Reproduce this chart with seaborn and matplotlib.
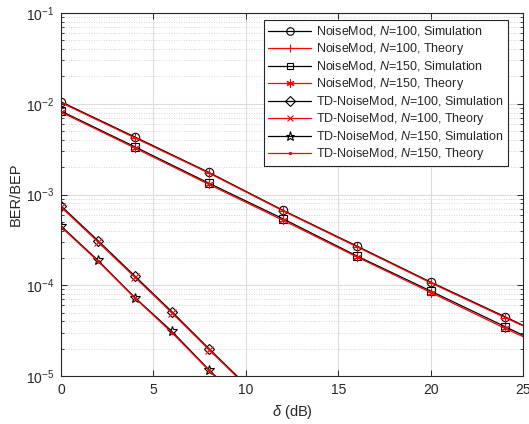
import numpy as np
import pandas as pd
import matplotlib
matplotlib.use("Agg")
import matplotlib.pyplot as plt
from matplotlib.ticker import LogLocator, NullFormatter, FixedLocator
import seaborn as sns

# ---- data -----------------------------------------------------------------
snr_nm = [0, 4, 8, 12, 16, 20, 24, 25]
nm100_sim = [1.05e-2, 4.3e-3, 1.75e-3, 6.7e-4, 2.7e-4, 1.08e-4, 4.5e-5, 3.6e-5]
nm100_th = [1.03e-2, 4.2e-3, 1.72e-3, 6.6e-4, 2.65e-4, 1.06e-4, 4.4e-5, 3.55e-5]
nm150_sim = [8.3e-3, 3.35e-3, 1.33e-3, 5.4e-4, 2.1e-4, 8.6e-5, 3.5e-5, 2.8e-5]
nm150_th = [8.1e-3, 3.25e-3, 1.29e-3, 5.2e-4, 2.05e-4, 8.3e-5, 3.35e-5, 2.7e-5]

snr_td = [0, 2, 4, 6, 8, 10]
td100_sim = [7.5e-4, 3.1e-4, 1.26e-4, 5.1e-5, 2.0e-5, 8.0e-6]
td100_th = [7.3e-4, 3.0e-4, 1.22e-4, 4.95e-5, 1.95e-5, 7.8e-6]
td150_sim = [4.5e-4, 1.88e-4, 7.3e-5, 3.1e-5, 1.17e-5, 4.7e-6]
td150_th = [4.4e-4, 1.84e-4, 7.2e-5, 3.0e-5, 1.15e-5, 4.6e-6]

labels = [
    "NoiseMod, $\\mathit{N}$=100, Simulation",
    "NoiseMod, $\\mathit{N}$=100, Theory",
    "NoiseMod, $\\mathit{N}$=150, Simulation",
    "NoiseMod, $\\mathit{N}$=150, Theory",
    "TD-NoiseMod, $\\mathit{N}$=100, Simulation",
    "TD-NoiseMod, $\\mathit{N}$=100, Theory",
    "TD-NoiseMod, $\\mathit{N}$=150, Simulation",
    "TD-NoiseMod, $\\mathit{N}$=150, Theory",
]

# ---- style ----------------------------------------------------------------
sns.set_theme(style="ticks")
plt.rcParams.update({
    "font.family": ["Liberation Sans", "DejaVu Sans"],
    "mathtext.fontset": "custom",
    "mathtext.rm": "Liberation Sans",
    "mathtext.it": "Liberation Sans:italic",
    "mathtext.default": "regular",
    "font.size": 10,
    "axes.edgecolor": "#262626",
    "axes.linewidth": 0.8,
    "xtick.direction": "in",
    "ytick.direction": "in",
    "xtick.color": "#262626",
    "ytick.color": "#262626",
})

fig = plt.figure(figsize=(5.29, 4.24), dpi=100)
ax = fig.add_axes([0.1153, 0.1132, 0.8743, 0.8561])

RED = "#ff0000"
BLK = "#000000"
asterisk = (6, 2, 0)

# (x, y, colour, marker, marker size, hollow, label)
series = [
    (snr_nm, nm100_sim, BLK, "o", 6.0, True, labels[0]),
    (snr_nm, nm100_th, RED, "+", 6.5, False, labels[1]),
    (snr_nm, nm150_sim, BLK, "s", 5.5, True, labels[2]),
    (snr_nm, nm150_th, RED, asterisk, 6.5, False, labels[3]),
    (snr_td, td100_sim, BLK, "D", 5.2, True, labels[4]),
    (snr_td, td100_th, RED, "x", 5.5, False, labels[5]),
    (snr_td, td150_sim, BLK, "*", 7.5, True, labels[6]),
    (snr_td, td150_th, RED, ".", 3.5, False, labels[7]),
]

for x, y, col, mk, ms, hollow, lab in series:
    df = pd.DataFrame({"x": x, "y": y})
    extra = {"markerfacecolor": "none"} if hollow else {}
    sns.lineplot(data=df, x="x", y="y", ax=ax, color=col, marker=mk,
                 markersize=ms, markeredgecolor=col, markeredgewidth=0.8,
                 linewidth=0.9, markevery=slice(0, len(x) - 1), label=lab,
                 **extra)

ax.set_yscale("log")
ax.set_xlim(0, 25)
ax.set_ylim(1e-5, 1e-1)
ax.xaxis.set_major_locator(FixedLocator([0, 5, 10, 15, 20, 25]))
ax.yaxis.set_major_locator(LogLocator(base=10, numticks=10))
ax.yaxis.set_minor_locator(LogLocator(base=10, subs=np.arange(2, 10), numticks=20))
ax.yaxis.set_minor_formatter(NullFormatter())

ax.grid(True, which="major", color="#dcdcdc", linewidth=0.8, linestyle="-")
ax.grid(True, which="minor", axis="y", color="#c8c8c8", linewidth=0.6, linestyle=(0, (1, 2)))
ax.set_axisbelow(True)

ax.tick_params(which="both", top=True, right=True, labelsize=10, pad=5)
ax.tick_params(which="major", length=4, width=0.7)
ax.tick_params(which="minor", length=2.5, width=0.6)

ax.set_xlabel("$\\mathit{\\delta}$ (dB)", fontsize=10.5, labelpad=4)
ax.set_ylabel("BER/BEP", fontsize=10.5, labelpad=2)

leg = ax.legend(loc="upper right", bbox_to_anchor=(0.9665, 0.9807),
                borderaxespad=0, fancybox=False, framealpha=1,
                edgecolor="#262626", fontsize=9, labelspacing=0.2,
                handlelength=3.4, handletextpad=0.4, borderpad=0.35,
                markerscale=0.9)
leg.get_frame().set_linewidth(0.8)

fig.savefig("out.png", dpi=100)
